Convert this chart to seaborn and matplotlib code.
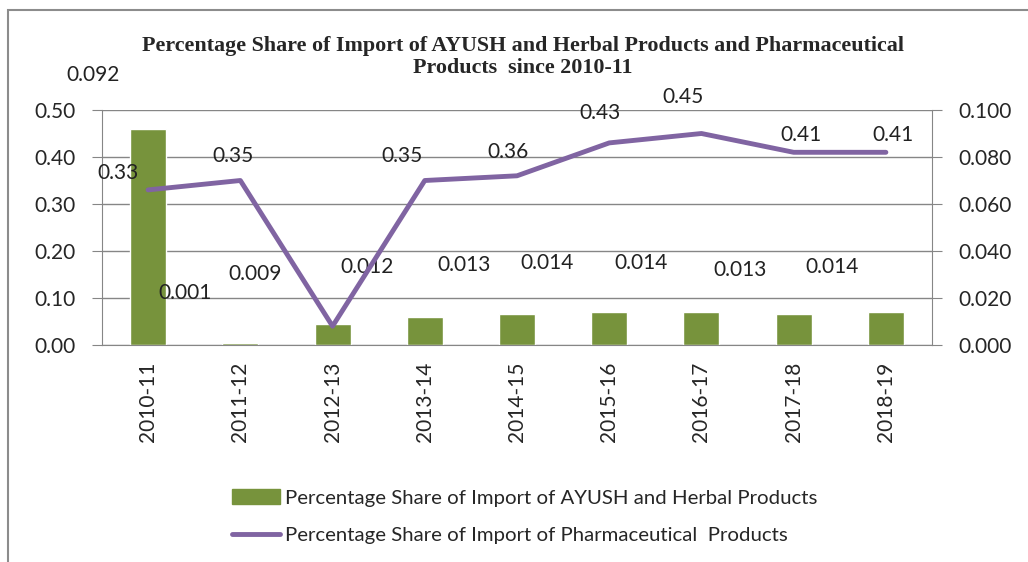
import numpy as np
import pandas as pd
import matplotlib
matplotlib.use("Agg")
import matplotlib.pyplot as plt
import seaborn as sns
from matplotlib.patches import Rectangle

years = ["2010-11", "2011-12", "2012-13", "2013-14", "2014-15",
         "2015-16", "2016-17", "2017-18", "2018-19"]
ayush_share = [0.092, 0.001, 0.009, 0.012, 0.013, 0.014, 0.014, 0.013, 0.014]
pharma_share = [0.33, 0.35, 0.04, 0.35, 0.36, 0.43, 0.45, 0.41, 0.41]
pharma_labels = ["0.33", "0.35", "", "0.35", "0.36", "0.43", "0.45", "0.41", "0.41"]

title = ("Percentage Share of Import of AYUSH and Herbal Products and Pharmaceutical\n"
         "Products  since 2010-11")
bar_name = "Percentage Share of Import of AYUSH and Herbal Products"
line_name = "Percentage Share of Import of Pharmaceutical  Products"

# label placement (pixels), roughly as in the original
bar_lab_dx = [-55, -55, -77, -58, -53, -62, -60, -54, -54]
bar_lab_y = [0.115, 0.022, 0.030, 0.033, 0.034, 0.035, 0.035, 0.032, 0.033]
line_lab_off = [(-30, 17), (-7, 24), (0, 0), (-23, 24), (-9, 24),
                (-9, 30), (-18, 36), (7, 17), (7, 17)]

sns.set_style("white")
plt.rcParams["font.family"] = ["Lato", "DejaVu Sans"]

green = "#77933C"
purple = "#8064A2"
gray = "#868686"

fig = plt.figure(figsize=(10.28, 5.62), dpi=100)
ax = fig.add_axes([102 / 1028, 1 - 345 / 562, 830 / 1028, 235 / 562])

df = pd.DataFrame({"year": years, "ayush": ayush_share, "pharma": pharma_share})
x = np.arange(len(years))

# bars on the right axis
sns.barplot(data=df, x="year", y="ayush", color=green, saturation=1,
            width=0.39, ax=ax, zorder=2)
ax.set_ylim(0, 0.1)
ax.set_yticks(np.arange(0, 0.1001, 0.02))
ax.set_yticklabels([f"{v:.3f}" for v in np.arange(0, 0.1001, 0.02)])
ax.grid(axis="y", color=gray, linewidth=1, zorder=0)
ax.set_axisbelow(True)
ax.set_xlim(-0.5, len(years) - 0.5)
ax.set_xlabel("")
ax.set_ylabel("")
ax.set_xticks(x)
ax.set_xticklabels(years, rotation=90)
ax.set_xticks(np.arange(-0.5, len(years)), minor=True)
ax.tick_params(axis="x", which="major", length=0, pad=12, labelsize=15)
ax.tick_params(axis="x", which="minor", length=7, color=gray, direction="out")
for s in ["top", "left"]:
    ax.spines[s].set_visible(False)
for s in ["bottom", "right"]:
    ax.spines[s].set_color(gray)

for i, v in enumerate(ayush_share):
    ax.annotate(f"{v:.3f}", (i, bar_lab_y[i]), xytext=(bar_lab_dx[i], 0),
                textcoords="offset pixels", ha="center", va="center",
                fontsize=15, color="#222222", annotation_clip=False)

# line on the left axis
ax2 = ax.twinx()
sns.lineplot(x=x, y=pharma_share, color=purple, linewidth=3.5, ax=ax2)
ax2.set_ylim(0, 0.5)
ax2.set_yticks(np.arange(0, 0.501, 0.1))
ax2.set_yticklabels([f"{v:.2f}" for v in np.arange(0, 0.501, 0.1)])
ax2.yaxis.tick_left()
ax.yaxis.tick_right()
ax.tick_params(axis="y", length=7, color=gray, direction="out", labelsize=15, pad=12)
ax2.tick_params(axis="y", length=7, color=gray, direction="out", labelsize=15, pad=12)
for s in ["top", "right", "bottom"]:
    ax2.spines[s].set_visible(False)
ax2.spines["left"].set_color(gray)
ax2.set_ylabel("")

for i, lab in enumerate(pharma_labels):
    if lab:
        ax2.annotate(lab, (i, pharma_share[i]), xytext=line_lab_off[i],
                     textcoords="offset pixels", ha="center", va="center",
                     fontsize=15, color="#222222", annotation_clip=False)

fig.text(523 / 1028, 1 - 57 / 562, title, ha="center", va="center",
         family="Liberation Serif", fontweight="bold", fontsize=15.8,
         linespacing=1.15)

handles = [Rectangle((0, 0), 1, 1, color=green),
           plt.Line2D([0], [0], color=purple, linewidth=3.5)]
fig.legend(handles, [bar_name, line_name], loc="upper left",
           bbox_to_anchor=(214 / 1028, 1 - 471 / 562), frameon=False,
           fontsize=14.7, handlelength=2.35, handletextpad=0.25,
           labelspacing=1.0)

# outer chart frame
fig.patches.append(Rectangle((8 / 1028, -0.1), 1.2, 1.1 - 10 / 562,
                             transform=fig.transFigure, fill=False,
                             edgecolor="#8c8c8c", linewidth=1.5))

fig.savefig("out.png", dpi=100)
